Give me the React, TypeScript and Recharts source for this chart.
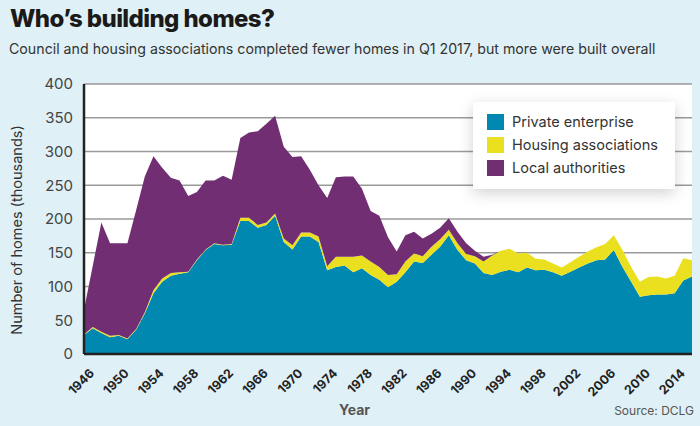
import React from "react";
import {
  AreaChart,
  Area,
  XAxis,
  YAxis,
  CartesianGrid,
  Legend,
} from "recharts";

const years = [
  1946, 1947, 1948, 1949, 1950, 1951, 1952, 1953, 1954, 1955, 1956, 1957,
  1958, 1959, 1960, 1961, 1962, 1963, 1964, 1965, 1966, 1967, 1968, 1969,
  1970, 1971, 1972, 1973, 1974, 1975, 1976, 1977, 1978, 1979, 1980, 1981,
  1982, 1983, 1984, 1985, 1986, 1987, 1988, 1989, 1990, 1991, 1992, 1993,
  1994, 1995, 1996, 1997, 1998, 1999, 2000, 2001, 2002, 2003, 2004, 2005,
  2006, 2007, 2008, 2009, 2010, 2011, 2012, 2013, 2014, 2015, 2016,
];

// thousands of completions
const privateEnterprise = [
  28, 38, 31, 25, 27, 22, 36, 60, 90, 107, 116, 119,
  121, 139, 154, 163, 161, 162, 197, 197, 187, 191, 205, 166,
  155, 174, 174, 166, 124, 129, 131, 121, 127, 117, 110, 99,
  107, 121, 137, 135, 147, 159, 176, 154, 139, 134, 120, 117,
  122, 125, 121, 128, 124, 125, 121, 116, 122, 128, 134, 139,
  140, 154, 129, 107, 85, 87, 88, 88, 90, 109, 115,
];

const housingAssociations = [
  1, 2, 2, 2, 1, 1, 1, 2, 5, 5, 4, 2,
  1, 1, 1, 1, 1, 1, 5, 5, 4, 4, 3, 5,
  6, 6, 6, 8, 6, 15, 13, 23, 19, 20, 19, 18,
  11, 16, 12, 10, 12, 11, 8, 10, 9, 11, 17, 29,
  31, 31, 28, 22, 17, 15, 13, 12, 14, 16, 18, 19,
  23, 22, 25, 22, 22, 27, 27, 24, 26, 33, 24,
];

const localAuthorities = [
  37, 90, 162, 137, 136, 141, 176, 201, 198, 164, 141, 136,
  112, 100, 102, 93, 102, 95, 118, 126, 139, 146, 145, 136,
  131, 113, 93, 76, 101, 118, 119, 119, 99, 75, 76, 56,
  34, 39, 32, 26, 19, 17, 17, 17, 16, 8, 7, 1,
  0, 0, 0, 0, 0, 0, 0, 0, 0, 0, 0, 0,
  0, 0, 0, 0, 0, 0, 0, 0, 0, 0, 0,
];

const yTicks = [0, 50, 100, 150, 200, 250, 300, 350, 400];

const legendOrder = [
  "Private enterprise",
  "Housing associations",
  "Local authorities",
];

const data = years.map((year, i) => ({
  year,
  privateEnterprise: privateEnterprise[i],
  housingAssociations: housingAssociations[i],
  localAuthorities: localAuthorities[i],
}));

const FONT = "Inter, 'Open Sans', sans-serif";
const PLOT_BOTTOM = 354;

const LegendBox = ({ payload }: any) => {
  const items = [...(payload || [])].sort(
    (a: any, b: any) => legendOrder.indexOf(a.value) - legendOrder.indexOf(b.value)
  );
  return (
    <div
      style={{
        background: "#fff",
        boxShadow: "0 4px 14px rgba(0,0,0,0.18)",
        padding: "8px 14px",
        boxSizing: "border-box",
        width: "100%",
        height: "100%",
      }}
    >
      {items.map((entry: any) => (
        <div
          key={entry.value}
          style={{
            display: "flex",
            alignItems: "center",
            height: 23,
            fontFamily: FONT,
            fontSize: 14.5,
            color: "#333",
          }}
        >
          <span
            style={{
              width: 17,
              height: 16,
              background: entry.color,
              marginRight: 8,
              display: "inline-block",
            }}
          />
          {entry.value}
        </div>
      ))}
    </div>
  );
};

// rotated year labels, end of baseline placed just below-right of the tick
const XTick = ({ x, payload }: any) => {
  const bx = x + 11;
  const by = PLOT_BOTTOM + 20;
  return (
    <text
      x={bx}
      y={by}
      transform={`rotate(-45, ${bx}, ${by})`}
      textAnchor="end"
      fontFamily={FONT}
      fontWeight={700}
      fontSize={12.5}
      fill="#222"
    >
      {payload.value}
    </text>
  );
};

const App: React.FC = () => {
  return (
    <div
      style={{
        position: "absolute",
        left: 0,
        top: 0,
        width: 700,
        height: 426,
        background: "#dff0f6",
        overflow: "hidden",
      }}
    >
      <div
        style={{
          position: "absolute",
          left: 10,
          top: 4,
          fontFamily: FONT,
          fontWeight: 800,
          fontSize: 24,
          letterSpacing: -0.6,
          color: "#1a1a1a",
        }}
      >
        Who’s building homes?
      </div>
      <div
        style={{
          position: "absolute",
          left: 9,
          top: 40,
          fontFamily: FONT,
          fontSize: 14.2,
          color: "#333",
          whiteSpace: "nowrap",
        }}
      >
        Council and housing associations completed fewer homes in Q1 2017, but
        more were built overall
      </div>
      <div
        style={{
          position: "absolute",
          left: 16,
          top: 230,
          transform: "translate(-50%, -50%) rotate(-90deg)",
          whiteSpace: "nowrap",
          fontFamily: FONT,
          fontSize: 14.5,
          color: "#333",
        }}
      >
        Number of homes (thousands)
      </div>
      <AreaChart
        width={700}
        height={426}
        data={data}
        margin={{ top: 84, right: 8, left: 24, bottom: 0 }}
        style={{ position: "absolute", left: 0, top: 0 }}
      >
        <CartesianGrid
          vertical={false}
          fill="#ffffff"
          stroke="#9a9a9a"
          strokeWidth={1.5}
        />
        <XAxis
          dataKey="year"
          interval={3}
          height={72}
          tick={<XTick />}
          tickLine={false}
          axisLine={{ stroke: "#222", strokeWidth: 2.5 }}
        />
        <YAxis
          domain={[0, 400]}
          ticks={yTicks}
          width={60}
          tickSize={0}
          tickMargin={11}
          tick={{ fontFamily: FONT, fontSize: 15, fill: "#444" }}
          axisLine={{ stroke: "#222", strokeWidth: 2.5 }}
        />
        <Area
          type="linear"
          dataKey="privateEnterprise"
          name="Private enterprise"
          stackId="a"
          stroke="none"
          fill="#0088b0"
          fillOpacity={1}
          isAnimationActive={false}
        />
        <Area
          type="linear"
          dataKey="housingAssociations"
          name="Housing associations"
          stackId="a"
          stroke="none"
          fill="#ebe020"
          fillOpacity={1}
          isAnimationActive={false}
        />
        <Area
          type="linear"
          dataKey="localAuthorities"
          name="Local authorities"
          stackId="a"
          stroke="none"
          fill="#722e73"
          fillOpacity={1}
          isAnimationActive={false}
        />
        <Legend
          layout="vertical"
          align="center"
          verticalAlign="middle"
          content={<LegendBox />}
          wrapperStyle={{ left: 473, top: 102, width: 202, height: 87 }}
        />
      </AreaChart>
      <div
        style={{
          position: "absolute",
          left: 339,
          top: 401,
          fontFamily: FONT,
          fontWeight: 700,
          fontSize: 14,
          color: "#555",
        }}
      >
        Year
      </div>
      <div
        style={{
          position: "absolute",
          right: 6,
          top: 403,
          fontFamily: FONT,
          fontSize: 12,
          color: "#555",
        }}
      >
        Source: DCLG
      </div>
    </div>
  );
};

export default App;
